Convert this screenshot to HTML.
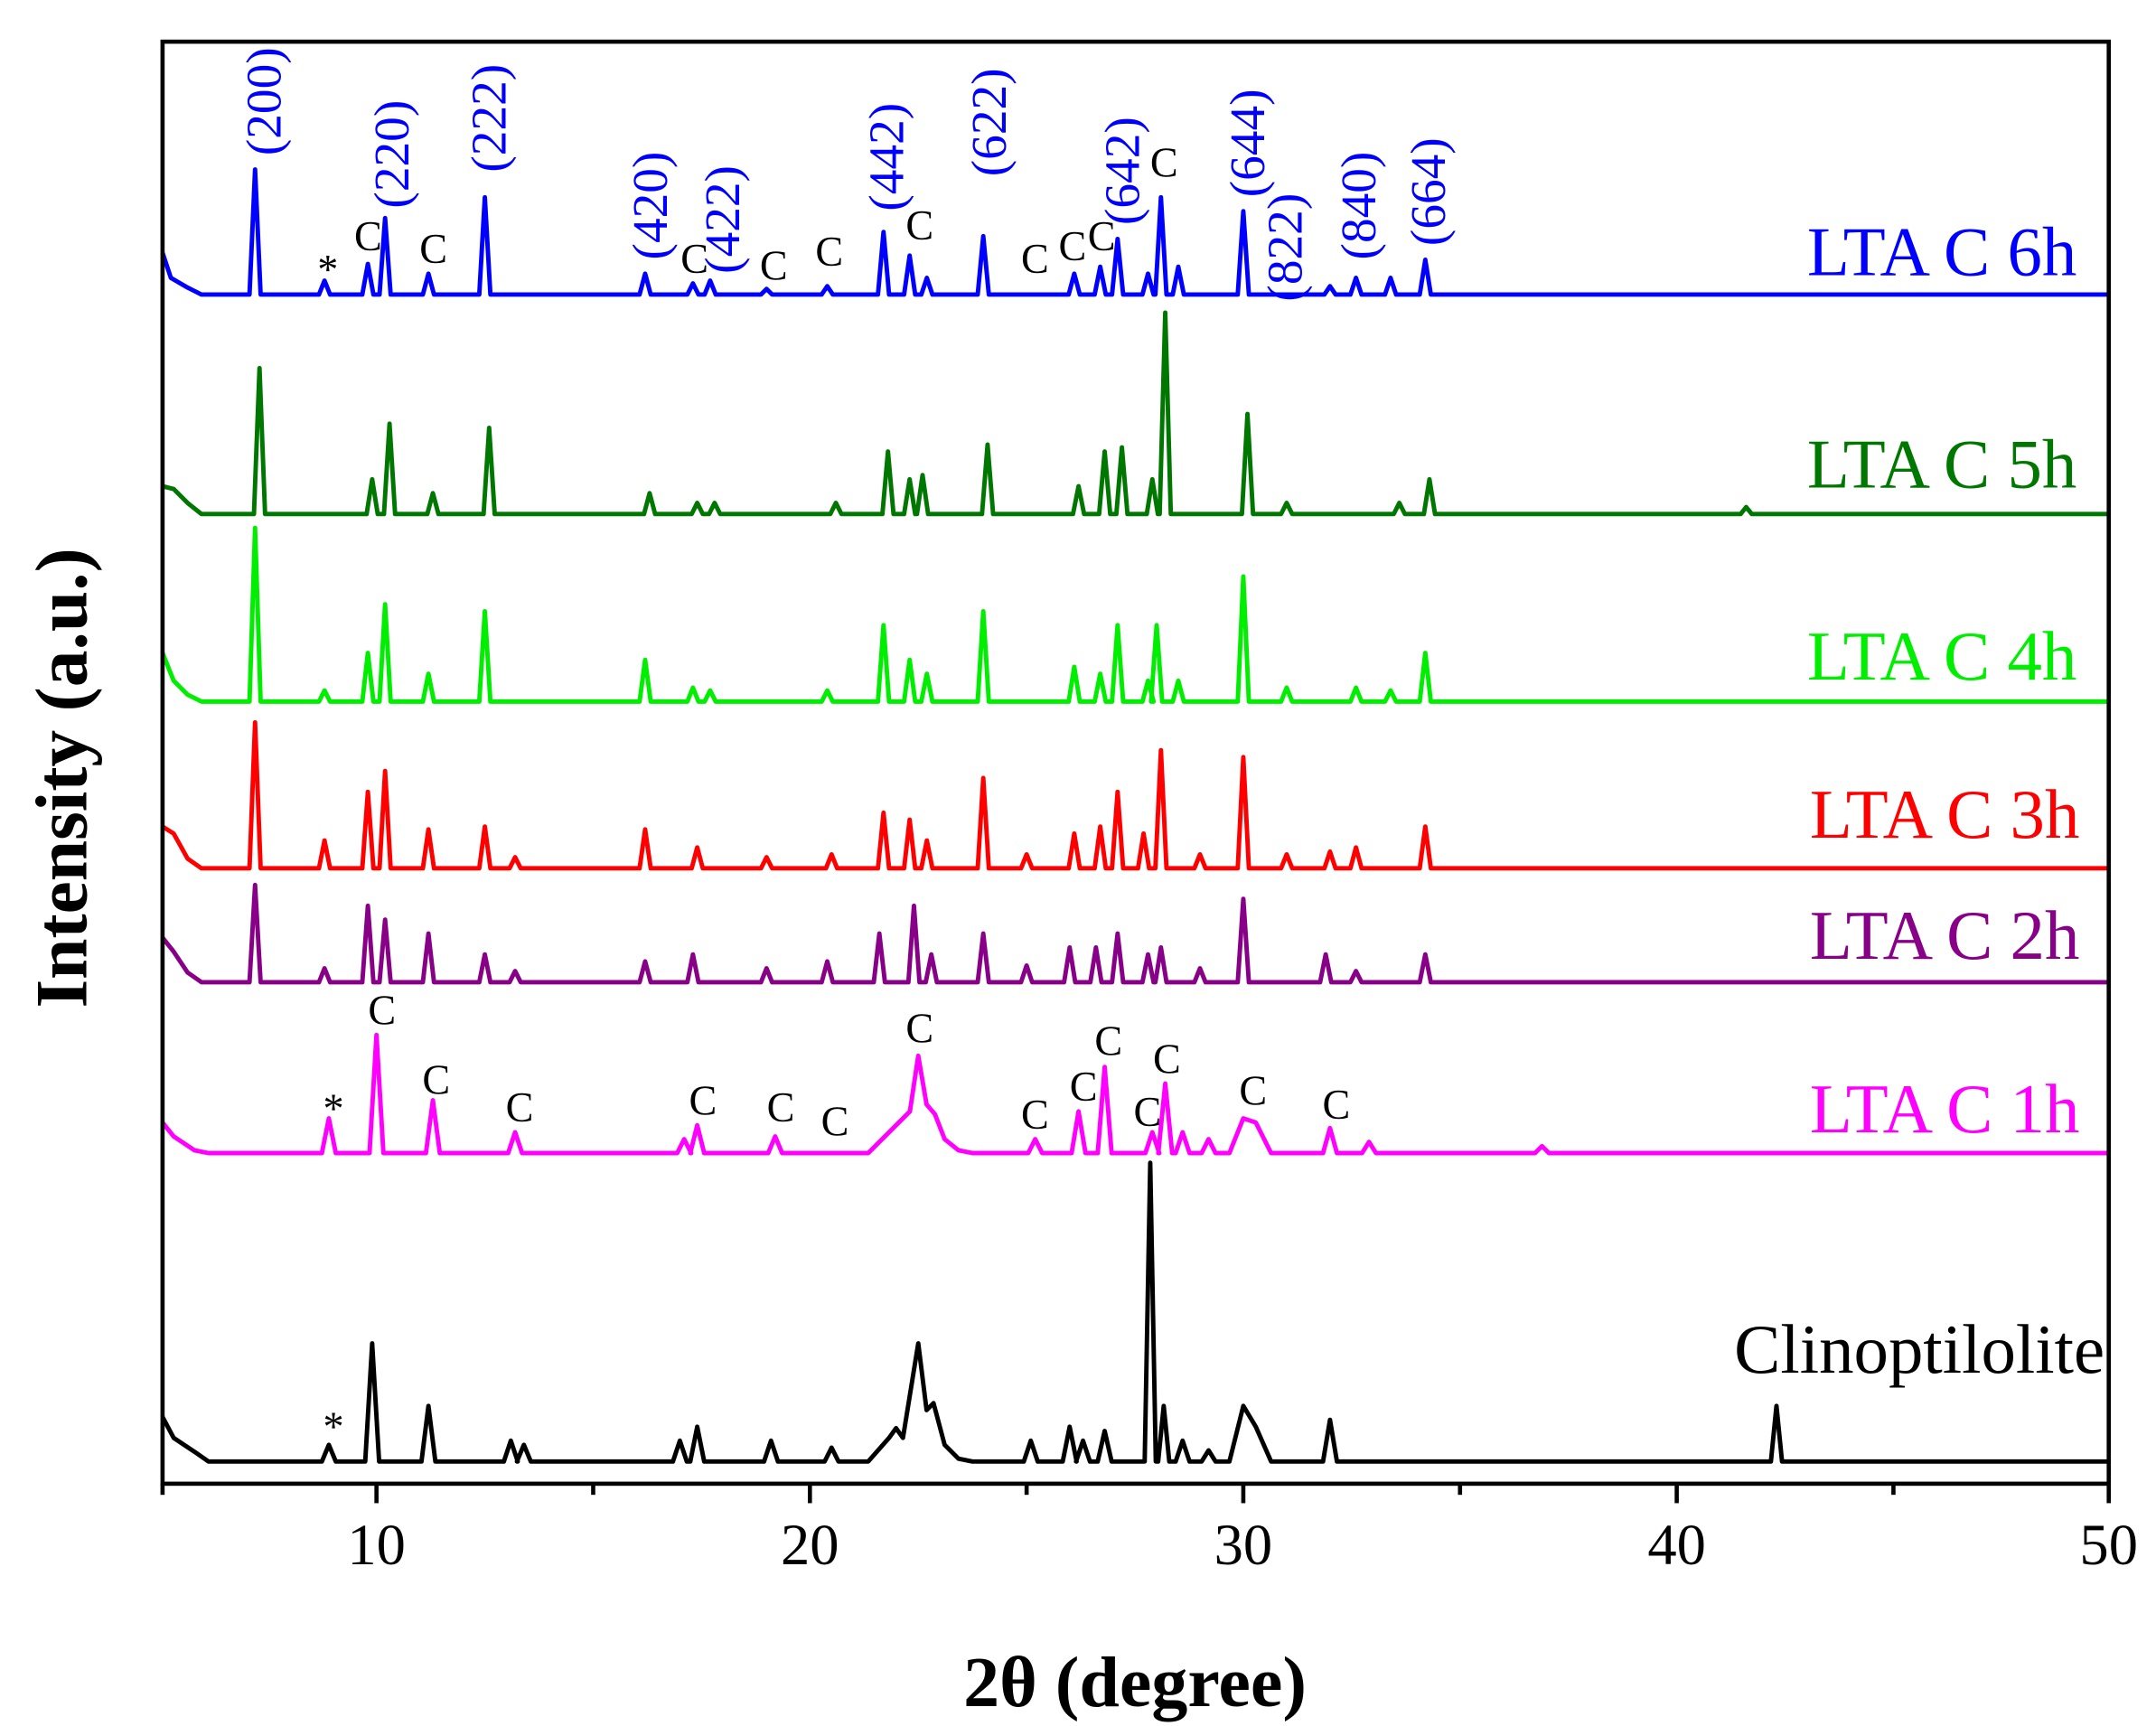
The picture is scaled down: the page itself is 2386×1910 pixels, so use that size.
<!DOCTYPE html>
<html><head><meta charset="utf-8"><style>html,body{margin:0;padding:0;background:#fff}svg{display:block}</style></head>
<body>
<svg width="2386" height="1910" viewBox="0 0 1552 1242.4" xmlns="http://www.w3.org/2000/svg" font-family="Liberation Serif, serif">
<rect x="0" y="0" width="1552" height="1243" fill="#fff"/>
<g fill="none" stroke-width="3.2" stroke-linejoin="round">
<path stroke="#0000ff" d="M117,182 L123,200 L135,207 L145,212 H179.6 l4,-90 l4,90 H229.6 l4,-10 l4,10 H260.8 l4,-22 l4,22 H273.2 l4,-55 l4,55 H304.4 l4,-15 l4,15 H345 l4,-70 l4,70 H460.4 l4,-15 l4,15 H494.8 l4,-8 l4,8 H507.2 l4,-10 l4,10 H547.8 l4,-4 l4,4 H591.5 l4,-6 l4,6 H632 l4,-45 l4,45 H650.8 l4,-28 l4,28 H663.2 l4,-12 l4,12 H703.8 l4,-42 l4,42 H769.3 l4,-15 l4,15 H788 l4,-20 l4,20 H800.5 l4,-40 l4,40 H822.4 l4,-15 l4,15 H831.7 l4,-70 l4,70 H844.2 l4,-20 l4,20 H891 l4,-60 l4,60 H953.4 l4,-6 l4,6 H972.1 l4,-12 l4,12 H997 l4,-12 l4,12 H1022 l4,-25 l4,25 H1519"/>
<path stroke="#007700" d="M117,350 L125,352 L135,362 L145,370 H182.8 l4,-105 l4,105 H263.9 l4,-25 l4,25 H276.4 l4,-65 l4,65 H307.6 l4,-15 l4,15 H348.1 l4,-62 l4,62 H463.6 l4,-15 l4,15 H497.9 l4,-8 l4,8 H510.4 l4,-8 l4,8 H597.7 l4,-8 l4,8 H635.2 l4,-45 l4,45 H650.8 l4,-25 l4,25 H660.1 l4,-28 l4,28 H706.9 l4,-50 l4,50 H772.4 l4,-20 l4,20 H791.2 l4,-45 l4,45 H803.6 l4,-48 l4,48 H825.5 l4,-25 l4,25 H834.8 l4,-145 l4,145 H894 l4,-72 l4,72 H922.2 l4,-8 l4,8 H1003.3 l4,-8 l4,8 H1025 l4,-25 l4,25 H1253 l4,-5 l4,5 H1519"/>
<path stroke="#00ee00" d="M117,470 L125,490 L135,500 L145,505 H179.6 l4,-125 l4,125 H229.6 l4,-8 l4,8 H260.8 l4,-35 l4,35 H273.2 l4,-70 l4,70 H304.4 l4,-20 l4,20 H345 l4,-65 l4,65 H460.4 l4,-30 l4,30 H494.8 l4,-10 l4,10 H507.2 l4,-8 l4,8 H591.5 l4,-8 l4,8 H632 l4,-55 l4,55 H650.8 l4,-30 l4,30 H663.2 l4,-20 l4,20 H703.8 l4,-65 l4,65 H769.3 l4,-25 l4,25 H788 l4,-20 l4,20 H800.5 l4,-55 l4,55 H822.4 l4,-15 l4,15 H828.6 l4,-55 l4,55 H844.2 l4,-15 l4,15 H891 l4,-90 l4,90 H922.2 l4,-10 l4,10 H972.1 l4,-10 l4,10 H997 l4,-8 l4,8 H1022 l4,-35 l4,35 H1519"/>
<path stroke="#ff0000" d="M117,595 L125,600 L135,618 L145,625 H179.6 l4,-105 l4,105 H229.6 l4,-20 l4,20 H260.8 l4,-55 l4,55 H273.2 l4,-70 l4,70 H304.4 l4,-28 l4,28 H345 l4,-30 l4,30 H366.8 l4,-8 l4,8 H460.4 l4,-28 l4,28 H497.9 l4,-15 l4,15 H547.8 l4,-8 l4,8 H594.6 l4,-10 l4,10 H632 l4,-40 l4,40 H650.8 l4,-35 l4,35 H663.2 l4,-20 l4,20 H703.8 l4,-65 l4,65 H735 l4,-10 l4,10 H769.3 l4,-25 l4,25 H788 l4,-30 l4,30 H800.5 l4,-55 l4,55 H819.2 l4,-25 l4,25 H831.7 l4,-85 l4,85 H859.8 l4,-10 l4,10 H891 l4,-80 l4,80 H922.2 l4,-10 l4,10 H953.4 l4,-12 l4,12 H972.1 l4,-15 l4,15 H1022 l4,-30 l4,30 H1519"/>
<path stroke="#880088" d="M117,675 L125,685 L135,700 L145,707 H179.6 l4,-70 l4,70 H229.6 l4,-10 l4,10 H260.8 l4,-55 l4,55 H273.2 l4,-45 l4,45 H304.4 l4,-35 l4,35 H345 l4,-20 l4,20 H366.8 l4,-8 l4,8 H460.4 l4,-15 l4,15 H494.8 l4,-20 l4,20 H547.8 l4,-10 l4,10 H591.5 l4,-15 l4,15 H629 l4,-35 l4,35 H653.9 l4,-55 l4,55 H666.4 l4,-20 l4,20 H703.8 l4,-35 l4,35 H735 l4,-12 l4,12 H766 l4,-25 l4,25 H784.9 l4,-25 l4,25 H800.5 l4,-35 l4,35 H822.4 l4,-20 l4,20 H831.7 l4,-25 l4,25 H859.8 l4,-10 l4,10 H891 l4,-60 l4,60 H950.3 l4,-20 l4,20 H972.1 l4,-8 l4,8 H1022 l4,-20 l4,20 H1519"/>
<path stroke="#ff00ff" d="M117,808 L125,818 L140,828 L150,830 H231.7 l5,-25 l5,25 H266 l5,-85 l5,85 H306.6 l5,-38 l5,38 H365.8 l5,-15 l5,15 H487.5 l5,-10 l5,10 H496.9 l5,-20 l5,20 H553 l5,-12 l5,12 H625 L645,810 L655,800 L661,760 L667,795 L673,802 L680,820 L690,828 L700,830 H740.2 l5,-10 l5,10 H771.4 l5,-30 l5,30 H790.2 l5,-62 l5,62 H824.5 l5,-15 l5,15 H833.8 l5,-50 l5,50 H846.3 l5,-15 l5,15 H865 l5,-10 l5,10 H885 L895,805 L904,808 L915,830 H952.4 l5,-18 l5,18 H980.5 l5,-8 l5,8 H1105 l5,-5 l5,5 H1519"/>
<path stroke="#000000" d="M117,1020 L125,1035 L140,1045 L150,1052 H231.7 l5,-12 l5,12 H262.9 l5,-85 l5,85 H303.4 l5,-40 l5,40 H362.7 l5,-15 l5,15 H372.1 l5,-12 l5,12 H484.4 l5,-15 l5,15 H496.9 l5,-25 l5,25 H550 l5,-15 l5,15 H593.6 l5,-10 l5,10 H625 L640,1035 L645,1028 L650,1035 L661,967 L667,1015 L672,1010 L680,1040 L690,1050 L700,1052 H737 l5,-15 l5,15 H765 l5,-25 l5,25 H774.6 l5,-15 l5,15 H790.2 l5,-22 l5,22 H824 l4,-215 l4,215 H833.7 l4,-40 l4,40 H846.3 l5,-15 l5,15 H865 l5,-8 l5,8 H885 L895,1012 L904,1027 L915,1052 H952.4 l5,-30 l5,30 H1274.8 l4,-40 l4,40 H1519"/>
</g>
<rect x="117" y="30" width="1401" height="1038" fill="none" stroke="#000" stroke-width="3"/>
<g stroke="#000" stroke-width="3">
<line x1="271" y1="1068" x2="271" y2="1082"/><line x1="583" y1="1068" x2="583" y2="1082"/><line x1="895" y1="1068" x2="895" y2="1082"/><line x1="1207" y1="1068" x2="1207" y2="1082"/><line x1="1518" y1="1068" x2="1518" y2="1082"/>
<line x1="427" y1="1068" x2="427" y2="1076"/><line x1="739" y1="1068" x2="739" y2="1076"/><line x1="1051" y1="1068" x2="1051" y2="1076"/><line x1="1363" y1="1068" x2="1363" y2="1076"/><line x1="117" y1="1068" x2="117" y2="1076"/>
</g>
<g font-size="42" text-anchor="middle" fill="#000">
<text x="271" y="1126">10</text><text x="583" y="1126">20</text><text x="895" y="1126">30</text><text x="1207" y="1126">40</text><text x="1518" y="1126">50</text>
</g>
<text x="817" y="1228" font-size="52" font-weight="bold" text-anchor="middle">2θ (degree)</text>
<text transform="translate(62,560) rotate(-90)" font-size="53" font-weight="bold" text-anchor="middle">Intensity (a.u.)</text>
<g font-size="50" text-anchor="end">
<text x="1495" y="198" fill="#0000ff">LTA C 6h</text>
<text x="1495" y="351" fill="#007700">LTA C 5h</text>
<text x="1495" y="489" fill="#00ee00">LTA C 4h</text>
<text x="1497" y="603" fill="#ff0000">LTA C 3h</text>
<text x="1497" y="690" fill="#880088">LTA C 2h</text>
<text x="1497" y="815" fill="#ff00ff">LTA C 1h</text>
<text x="1515" y="988" fill="#000">Clinoptilolite</text>
</g>
<g font-size="36" fill="#0000ff">
<text transform="translate(202,112) rotate(-90)">(200)</text>
<text transform="translate(294,150) rotate(-90)">(220)</text>
<text transform="translate(364,124) rotate(-90)">(222)</text>
<text transform="translate(480,187) rotate(-90)">(420)</text>
<text transform="translate(532,197) rotate(-90)">(422)</text>
<text transform="translate(650,152) rotate(-90)">(442)</text>
<text transform="translate(724,127) rotate(-90)">(622)</text>
<text transform="translate(820,162) rotate(-90)">(642)</text>
<text transform="translate(910,142) rotate(-90)">(644)</text>
<text transform="translate(937,217) rotate(-90)">(822)</text>
<text transform="translate(990,187) rotate(-90)">(840)</text>
<text transform="translate(1040,177) rotate(-90)">(664)</text>
</g>
<g font-size="30" fill="#000" text-anchor="middle">
<text x="265" y="180">C</text><text x="312" y="189">C</text><text x="500" y="196">C</text><text x="557" y="201">C</text><text x="597" y="191">C</text><text x="662" y="172">C</text><text x="745" y="196">C</text><text x="772" y="187">C</text><text x="793" y="180">C</text><text x="838" y="127">C</text><text x="236" y="204">*</text>
<text x="240" y="808">*</text><text x="275" y="737">C</text><text x="314" y="787">C</text><text x="374" y="807">C</text><text x="506" y="802">C</text><text x="562" y="807">C</text><text x="601" y="817">C</text><text x="662" y="750">C</text><text x="745" y="812">C</text><text x="780" y="792">C</text><text x="798" y="759">C</text><text x="826" y="810">C</text><text x="840" y="772">C</text><text x="902" y="795">C</text><text x="962" y="805">C</text><text x="240" y="1037">*</text>
</g>
</svg>
</body></html>
